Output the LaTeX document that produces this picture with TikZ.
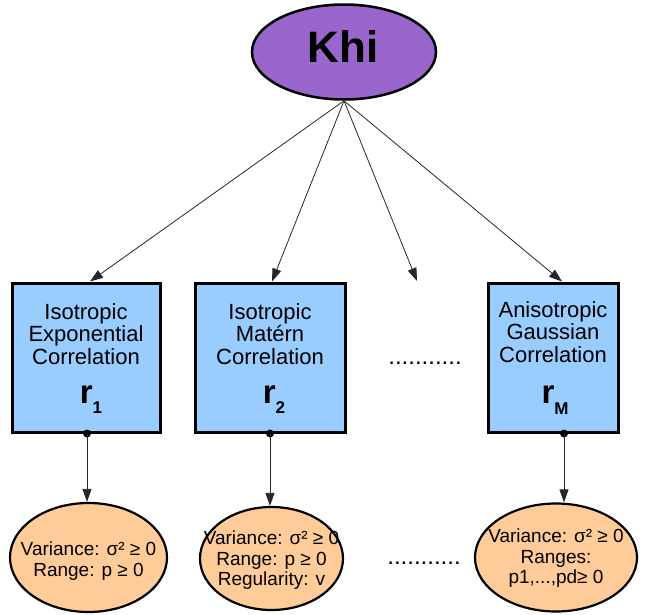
\documentclass[tikz,border=0pt]{standalone}
\usepackage{fontspec}
\setmainfont{Liberation Sans}
\usetikzlibrary{shapes.geometric,arrows.meta,calc}
\definecolor{khipurple}{RGB}{153,102,204}
\definecolor{boxblue}{RGB}{153,204,255}
\definecolor{paramorange}{RGB}{255,204,153}
\begin{document}
\begin{tikzpicture}[x=1pt,y=-1pt,
  khistyle/.style={ellipse, draw=black, line width=2.5pt, fill=khipurple, minimum width=184pt, minimum height=95pt, inner sep=0pt},
  corrbox/.style={rectangle, draw=black, line width=3pt, fill=boxblue, minimum height=149pt, inner sep=0pt},
  parell/.style={ellipse, draw=black, line width=2.2pt, fill=paramorange, inner sep=0pt},
  boxtext/.style={font=\fontsize{22}{22.6}\selectfont, align=center, inner sep=0pt, anchor=north},
  partext/.style={font=\fontsize{19}{20.3}\selectfont, align=center, inner sep=0pt, anchor=north},
  rlabel/.style={inner sep=0pt, anchor=base},
  dotsline/.style={font=\fontsize{24}{24}\selectfont, inner sep=0pt, anchor=base},
  link/.style={draw=black!85, line width=0.8pt, -{Triangle[length=13pt,width=9pt]}},
  dotend/.style={circle, fill=black, inner sep=0pt, minimum size=8pt},
]
\useasboundingbox (0,0) rectangle (646,615);
% top node
\node[khistyle] (khi) at (344,52) {};
\node[inner sep=0pt, anchor=base, font=\fontsize{44}{44}\selectfont\bfseries] (khit) at (343,63) {Khi};
% boxes
\node[corrbox, minimum width=148pt] (b1) at (86,357.5) {};
\node[corrbox, minimum width=150pt] (b2) at (270,357.5) {};
\node[corrbox, minimum width=130pt] (b3) at (553,357.5) {};
\node[boxtext] (b1t) at (86,303) {Isotropic\\Exponential\\Correlation};
\node[boxtext] (b2t) at (270,303) {Isotropic\\Matérn\\Correlation};
\node[boxtext] (b3t) at (553,301) {Anisotropic\\Gaussian\\Correlation};
\node[rlabel] (r1) at (91,403) {{\fontsize{33}{33}\selectfont\bfseries r}\raisebox{-10pt}{\fontsize{17}{17}\selectfont\bfseries 1}};
\node[rlabel] (r2) at (274,403) {{\fontsize{33}{33}\selectfont\bfseries r}\raisebox{-10pt}{\fontsize{17}{17}\selectfont\bfseries 2}};
\node[rlabel] (r3) at (555,403) {{\fontsize{33}{33}\selectfont\bfseries r}\raisebox{-11pt}{\fontsize{17}{17}\selectfont\bfseries M}};
\node[dotsline] (mid) at (425,364) {...........};
% parameter ellipses
\node[parell, minimum width=157pt, minimum height=109pt] (e1) at (88.5,557.5) {};
\node[parell, minimum width=143pt, minimum height=103pt] (e2) at (271.5,558.5) {};
\node[parell, minimum width=162pt, minimum height=108pt] (e3) at (556,557.5) {};
\node[partext] (e1t) at (88.5,542) {Variance: σ² ≥ 0\\Range: p ≥ 0};
\node[partext] (e2t) at (271.5,531) {Variance: σ² ≥ 0\\Range: p ≥ 0\\Regularity: v};
\node[partext] (e3t) at (556,529) {Variance: σ² ≥ 0\\Ranges:\\p1,...,pd≥ 0};
\node[dotsline] (low) at (424,564) {...........};
% connectors from Khi
\coordinate (free) at (417,281);
\draw[link] (khi.south) -- ([xshift=4pt]b1.north);
\draw[link] (khi.south) -- ([xshift=2pt]b2.north);
\draw[link] (khi.south) -- (free);
\draw[link] (khi.south) -- ([xshift=9pt]b3.north);
% connectors to parameters
\node[dotend] (d1) at ([xshift=1pt]b1.south) {};
\node[dotend] (d2) at (b2.south) {};
\node[dotend] (d3) at ([xshift=11pt]b3.south) {};
\draw[link] (d1.center) -- (d1.center |- e1.north);
\draw[link] (d2.center) -- (d2.center |- e2.north);
\draw[link] (d3.center) -- (d3.center |- e3.north);
\end{tikzpicture}
\end{document}
